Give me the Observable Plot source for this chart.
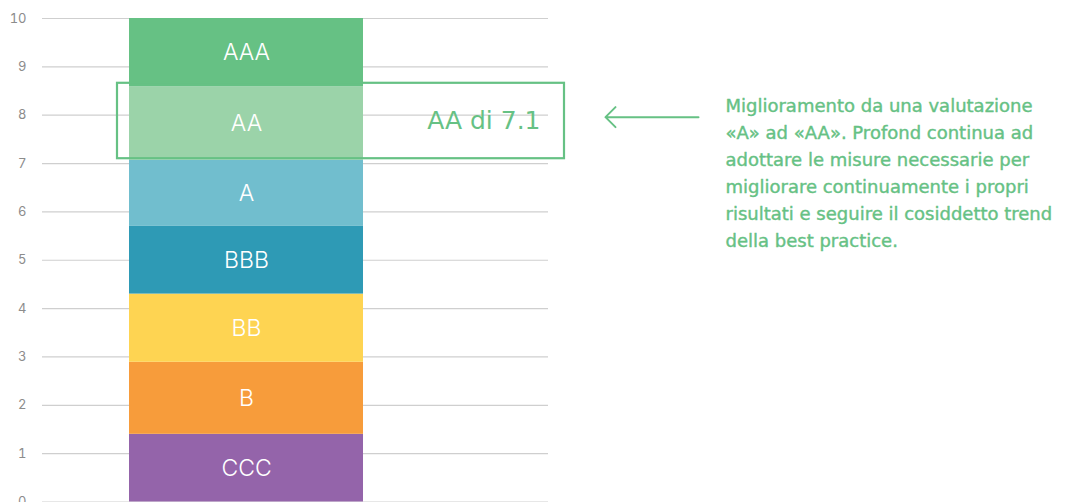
<!DOCTYPE html>
<html>
<head>
<meta charset="utf-8">
<script src="https://cdn.jsdelivr.net/npm/d3@7"></script>
<script src="https://cdn.jsdelivr.net/npm/@observablehq/plot@0.6"></script>
<style>
  html, body { margin: 0; padding: 0; background: #fff; }
  #chart svg { display: block; }
</style>
</head>
<body>
<div id="chart"></div>
<script>
// Rating segments (stacked from bottom to top)
const ratings = ["CCC", "B", "BB", "BBB", "A", "AA", "AAA"];
const lowerBounds = [0, 1.40, 2.89, 4.30, 5.70, 7.07, 8.59];
const upperBounds = [1.40, 2.89, 4.30, 5.70, 7.07, 8.59, 10];
const ratingColors = ["#9464aa", "#f79c3b", "#fed452", "#2e9ab5", "#71bece", "#9bd3a9", "#66c184"];
const yTicks = [0, 1, 2, 3, 4, 5, 6, 7, 8, 9, 10];

// Highlight annotation
const category = "Profond";
const highlightLabel = "AA di 7.1";
const highlightLow = 7.1;
const highlightHigh = 8.66;
const arrowY = 7.96;
const noteLines = [
  "Miglioramento da una valutazione",
  "«A» ad «AA». Profond continua ad",
  "adottare le misure necessarie per",
  "migliorare continuamente i propri",
  "risultati e seguire il cosiddetto trend",
  "della best practice."
];

const segments = ratings.map((r, i) => ({
  x: category, rating: r, y1: lowerBounds[i], y2: upperBounds[i], color: ratingColors[i]
}));

const green = "#66c184";
const font = "Inter, sans-serif";
const noteFont = "DejaVu Sans, sans-serif";

// arrow shape with a fixed-size head
const leftArrow = {
  draw(context, l) {
    const h = 10;
    context.moveTo(0, 0);
    context.lineTo(0, -l);
    context.moveTo(-h, -l + h);
    context.lineTo(0, -l);
    context.lineTo(h, -l + h);
  }
};

const chart = Plot.plot({
  width: 1087,
  height: 502,
  marginTop: 18,
  marginBottom: 0.5,
  marginLeft: 42,
  marginRight: 539,
  style: { fontFamily: font, background: "#fff", overflow: "visible" },
  x: { type: "band", domain: [category], paddingInner: 0, paddingOuter: 0.581, align: 0.32, axis: null },
  y: { domain: [0, 10], axis: null },
  marks: [
    Plot.ruleY(yTicks, { stroke: "#cfcfcf", strokeWidth: 1.2 }),
    Plot.axisY(yTicks, { tickSize: 0, tickPadding: 16, fontSize: 13, fill: "#8c8c8c", label: null, tickFormat: d => d }),
    Plot.barY(segments, { x: "x", y1: "y1", y2: "y2", fill: "color" }),
    Plot.text(segments, {
      x: "x", y: d => (d.y1 + d.y2) / 2, text: "rating",
      fill: "white", fontSize: 23, fontWeight: 300
    }),
    Plot.barY([{ x: category, y1: highlightLow, y2: highlightHigh }], {
      x: "x", y1: "y1", y2: "y2", fill: "none", stroke: green, strokeWidth: 2.2,
      insetLeft: -12, insetRight: -201
    }),
    Plot.text([highlightLabel], {
      x: () => category, y: () => (highlightLow + highlightHigh) / 2, text: d => d,
      textAnchor: "end", dx: 294, fill: green, fontSize: 25, fontFamily: noteFont
    }),
    Plot.vector([{ x: category, y: arrowY }], {
      x: "x", y: "y", length: 93, rotate: -90, anchor: "start", shape: leftArrow,
      dx: 452, stroke: green, strokeWidth: 2
    }),
    Plot.text([noteLines.join("\n")], {
      x: () => category, y: () => arrowY, text: d => d,
      textAnchor: "start", lineAnchor: "top", dx: 479, dy: -24,
      lineHeight: 1.5, fill: green, stroke: green, strokeWidth: 0.4,
      fontSize: 18, fontFamily: noteFont
    })
  ]
});

document.getElementById("chart").appendChild(chart);
</script>
</body>
</html>
